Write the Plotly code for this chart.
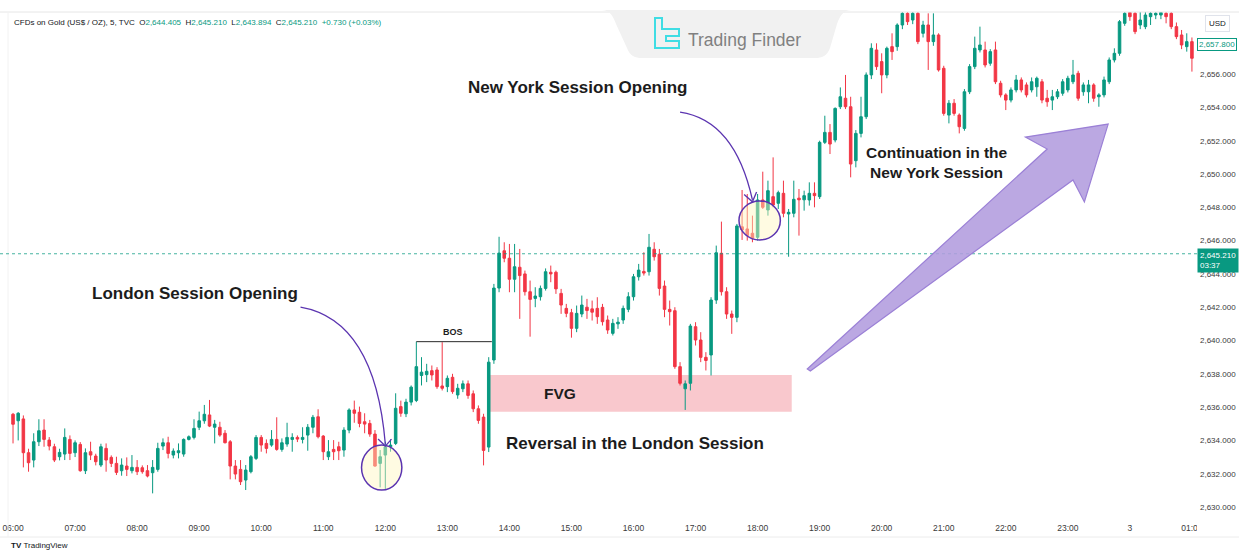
import pandas as pd
import plotly.graph_objects as go

# ---------------- data (5-minute candles, XAUUSD) ----------------
opens = [
    2635.57, 2635.18, 2635.29, 2633.26, 2632.82, 2633.92, 2634.62, 2634.02, 2633.62, 2633.02,
    2633.18, 2634.06, 2633.26, 2633.76, 2632.18, 2633.32, 2633.06, 2632.52, 2633.52, 2632.98,
    2632.62, 2632.18, 2632.46, 2632.18, 2632.38, 2632.36, 2632.18, 2632.06, 2632.26, 2633.66,
    2633.86, 2633.12, 2633.26, 2633.18, 2634.06, 2634.18, 2634.79, 2635.18, 2635.53, 2634.79,
    2634.79, 2634.43, 2633.92, 2632.46, 2632.26, 2631.62, 2632.12, 2632.92, 2634.18, 2633.82,
    2633.72, 2634.06, 2633.46, 2633.78, 2634.06, 2634.18, 2634.06, 2634.32, 2634.79, 2635.42,
    2634.26, 2633.02, 2633.46, 2633.62, 2633.42, 2634.62, 2635.83, 2635.69, 2635.12, 2635.02,
    2634.38, 2632.62, 2633.12, 2633.62, 2633.82, 2636.03, 2635.60, 2636.30, 2636.40, 2637.90,
    2637.95, 2638.19, 2638.23, 2637.27, 2637.23, 2637.79, 2636.73, 2637.10, 2637.40, 2636.80,
    2635.90, 2635.40, 2633.60, 2638.83, 2643.15, 2645.39, 2644.94, 2643.68, 2644.40, 2644.00,
    2642.93, 2642.53, 2642.63, 2643.13, 2644.10, 2644.10, 2642.83, 2641.93, 2641.67, 2640.73,
    2641.59, 2642.00, 2641.90, 2641.93, 2641.99, 2641.23, 2640.43, 2641.00, 2641.23, 2641.87,
    2642.63, 2643.83, 2644.15, 2644.13, 2645.48, 2645.18, 2643.27, 2641.87, 2641.79, 2638.43,
    2637.10, 2637.43, 2640.83, 2640.03, 2638.99, 2639.13, 2642.43, 2645.24, 2642.93, 2641.59,
    2641.39, 2646.83, 2646.70, 2646.44, 2646.20, 2648.44, 2647.84, 2648.64, 2648.24, 2648.84,
    2647.60, 2647.64, 2648.55, 2648.45, 2648.44, 2648.84, 2648.64, 2651.90, 2652.50, 2652.04,
    2654.04, 2654.55, 2654.04, 2650.80, 2652.44, 2653.44, 2655.95, 2657.45, 2656.75, 2655.95,
    2657.65, 2657.65, 2658.95, 2659.65, 2659.25, 2659.65, 2658.45, 2658.95, 2657.95, 2658.35,
    2656.35, 2653.54, 2654.25, 2653.54, 2652.74, 2654.94, 2656.45, 2657.45, 2657.45, 2656.65,
    2657.45, 2655.45, 2654.75, 2654.44, 2655.05, 2655.65, 2655.35, 2655.05, 2655.24, 2655.54,
    2654.55, 2654.44, 2654.64, 2654.85, 2655.05, 2655.54, 2656.05, 2654.94, 2654.94, 2655.35,
    2654.64, 2654.75, 2655.54, 2656.85, 2657.25, 2659.05, 2659.70, 2659.65, 2658.95, 2658.85,
    2659.45, 2659.55, 2659.55, 2659.65, 2659.65, 2658.85, 2658.35, 2657.65, 2657.95,
]
highs = [
    2635.65, 2635.70, 2635.50, 2633.50, 2634.43, 2635.27, 2635.27, 2634.20, 2633.80, 2633.50,
    2634.72, 2634.30, 2634.00, 2633.90, 2633.52, 2633.92, 2633.20, 2633.80, 2633.82, 2633.10,
    2633.02, 2632.92, 2632.98, 2633.12, 2632.82, 2632.50, 2632.52, 2632.82, 2633.86, 2634.12,
    2634.22, 2633.52, 2633.82, 2634.12, 2634.30, 2635.27, 2635.73, 2636.13, 2636.43, 2635.23,
    2635.12, 2634.62, 2634.02, 2632.82, 2632.82, 2632.52, 2633.12, 2634.32, 2634.32, 2634.06,
    2634.62, 2635.39, 2634.12, 2635.06, 2634.43, 2634.30, 2634.79, 2634.98, 2635.53, 2635.87,
    2634.32, 2634.02, 2634.02, 2633.92, 2634.79, 2635.93, 2636.39, 2636.03, 2635.63, 2635.23,
    2634.62, 2633.42, 2633.92, 2634.06, 2636.83, 2636.39, 2636.50, 2637.30, 2639.93, 2639.00,
    2638.60, 2638.50, 2638.40, 2639.90, 2637.90, 2638.00, 2637.40, 2637.60, 2637.60, 2637.00,
    2636.10, 2635.60, 2639.00, 2643.40, 2646.23, 2645.90, 2645.80, 2645.80, 2645.50, 2644.20,
    2643.60, 2643.20, 2643.30, 2644.33, 2644.50, 2644.20, 2643.10, 2642.20, 2641.90, 2642.10,
    2642.70, 2642.50, 2642.40, 2642.60, 2642.20, 2641.50, 2641.30, 2641.40, 2642.10, 2642.90,
    2644.00, 2644.60, 2645.30, 2646.40, 2645.90, 2645.50, 2643.60, 2642.40, 2642.00, 2638.70,
    2637.60, 2641.00, 2641.10, 2640.50, 2639.30, 2642.60, 2645.70, 2647.14, 2643.20, 2641.80,
    2647.00, 2649.04, 2648.80, 2647.50, 2648.80, 2650.14, 2649.60, 2651.00, 2649.00, 2649.60,
    2647.90, 2649.60, 2649.10, 2649.00, 2649.50, 2649.50, 2652.00, 2653.50, 2653.00, 2654.00,
    2655.20, 2655.95, 2654.64, 2652.64, 2654.64, 2656.10, 2657.85, 2657.85, 2657.25, 2657.65,
    2658.45, 2659.05, 2660.20, 2660.20, 2660.20, 2660.20, 2659.20, 2659.65, 2659.65, 2658.45,
    2656.50, 2654.44, 2654.50, 2653.64, 2655.10, 2656.60, 2658.25, 2658.85, 2657.95, 2657.50,
    2657.95, 2655.60, 2654.85, 2655.20, 2655.95, 2655.80, 2655.50, 2655.80, 2655.85, 2655.70,
    2655.05, 2655.05, 2655.10, 2655.70, 2655.90, 2656.85, 2656.20, 2655.50, 2655.65, 2655.45,
    2654.85, 2655.85, 2657.00, 2657.55, 2659.25, 2660.20, 2660.20, 2660.00, 2659.80, 2660.20,
    2660.20, 2660.20, 2660.20, 2660.20, 2660.00, 2659.10, 2658.65, 2658.45, 2658.20,
]
lows = [
    2633.82, 2634.00, 2632.38, 2632.12, 2632.38, 2633.66, 2633.62, 2633.40, 2632.70, 2632.80,
    2632.82, 2632.82, 2633.00, 2632.12, 2631.98, 2632.82, 2632.50, 2632.40, 2632.12, 2632.40,
    2631.92, 2631.88, 2631.86, 2632.02, 2631.92, 2632.00, 2631.78, 2630.82, 2632.12, 2633.42,
    2632.92, 2632.92, 2632.92, 2633.02, 2634.00, 2634.06, 2634.62, 2635.00, 2634.80, 2633.82,
    2634.22, 2633.82, 2631.66, 2631.66, 2631.32, 2631.02, 2632.02, 2632.82, 2633.32, 2633.22,
    2633.62, 2633.38, 2633.32, 2633.62, 2633.32, 2633.90, 2633.82, 2633.38, 2634.43, 2634.12,
    2632.82, 2632.82, 2632.82, 2632.82, 2633.02, 2634.43, 2635.06, 2634.79, 2634.43, 2634.22,
    2632.42, 2631.18, 2631.02, 2633.32, 2633.72, 2635.42, 2635.40, 2636.10, 2636.30, 2637.30,
    2637.50, 2637.60, 2637.10, 2637.00, 2636.90, 2636.80, 2636.50, 2636.90, 2636.50, 2635.70,
    2635.00, 2632.50, 2633.30, 2638.60, 2642.90, 2644.70, 2642.90, 2642.90, 2641.30, 2642.70,
    2640.23, 2642.00, 2642.40, 2643.00, 2643.50, 2642.80, 2641.60, 2641.40, 2640.17, 2640.50,
    2641.40, 2641.30, 2641.20, 2641.00, 2640.90, 2640.40, 2640.30, 2640.70, 2641.00, 2641.70,
    2642.40, 2643.60, 2643.90, 2643.90, 2644.80, 2642.70, 2641.40, 2640.90, 2638.30, 2637.30,
    2635.83, 2637.00, 2639.70, 2638.70, 2638.20, 2637.90, 2642.20, 2642.70, 2641.30, 2640.40,
    2641.10, 2646.04, 2646.00, 2645.90, 2646.00, 2647.90, 2647.50, 2648.00, 2647.90, 2647.40,
    2645.03, 2647.40, 2646.30, 2647.80, 2648.10, 2648.00, 2648.50, 2651.80, 2651.20, 2651.90,
    2653.90, 2653.90, 2649.80, 2650.40, 2652.20, 2653.30, 2655.70, 2656.25, 2654.85, 2655.75,
    2656.85, 2657.40, 2658.70, 2658.95, 2659.00, 2657.80, 2658.20, 2656.25, 2657.70, 2656.15,
    2653.50, 2653.04, 2653.50, 2652.44, 2652.60, 2654.80, 2656.30, 2657.30, 2656.40, 2656.50,
    2655.40, 2654.60, 2653.84, 2654.30, 2654.90, 2654.90, 2654.60, 2654.90, 2654.64, 2654.25,
    2654.04, 2653.84, 2654.50, 2654.70, 2654.90, 2655.40, 2654.40, 2654.70, 2654.25, 2654.34,
    2654.04, 2654.60, 2655.40, 2656.70, 2657.10, 2658.90, 2659.20, 2658.40, 2658.70, 2658.70,
    2658.95, 2659.30, 2659.30, 2659.05, 2658.70, 2658.10, 2657.50, 2657.35, 2656.15,
]
closes = [
    2634.97, 2635.63, 2633.26, 2632.66, 2633.92, 2634.58, 2634.06, 2633.66, 2632.82, 2633.28,
    2634.18, 2633.22, 2633.86, 2632.18, 2633.26, 2633.12, 2632.72, 2633.62, 2632.82, 2632.62,
    2632.08, 2632.52, 2632.26, 2632.38, 2632.12, 2632.12, 2631.86, 2632.38, 2633.52, 2633.86,
    2633.22, 2633.36, 2633.38, 2634.06, 2634.22, 2634.72, 2635.18, 2635.57, 2634.86, 2634.98,
    2634.32, 2633.86, 2632.46, 2631.98, 2631.52, 2632.22, 2633.02, 2634.18, 2633.72, 2633.52,
    2634.06, 2633.46, 2633.86, 2634.18, 2634.18, 2634.08, 2634.18, 2634.79, 2635.39, 2634.22,
    2633.32, 2633.32, 2633.32, 2633.38, 2634.62, 2635.83, 2635.63, 2635.02, 2634.98, 2634.38,
    2632.46, 2633.02, 2633.62, 2633.72, 2635.93, 2635.63, 2636.30, 2637.20, 2638.43, 2638.10,
    2638.15, 2637.93, 2637.23, 2637.13, 2637.73, 2636.93, 2637.13, 2637.40, 2636.70, 2635.90,
    2635.20, 2633.40, 2638.70, 2643.15, 2645.25, 2644.94, 2643.68, 2644.43, 2643.90, 2642.93,
    2642.47, 2642.67, 2643.13, 2644.13, 2644.00, 2643.10, 2642.13, 2641.63, 2640.73, 2641.63,
    2642.13, 2641.80, 2641.70, 2641.43, 2641.13, 2640.63, 2641.03, 2641.10, 2641.93, 2642.63,
    2643.83, 2644.23, 2644.05, 2645.60, 2645.03, 2643.13, 2641.87, 2641.73, 2638.43, 2637.43,
    2637.40, 2640.87, 2640.03, 2638.99, 2638.80, 2642.43, 2645.27, 2642.93, 2641.59, 2641.39,
    2646.88, 2646.64, 2646.30, 2646.14, 2648.44, 2648.00, 2649.00, 2648.14, 2648.88, 2647.64,
    2647.70, 2648.48, 2648.45, 2648.70, 2648.84, 2648.70, 2651.90, 2652.50, 2651.80, 2653.94,
    2654.64, 2654.04, 2650.60, 2652.44, 2653.44, 2655.95, 2657.55, 2656.45, 2655.95, 2657.55,
    2657.35, 2658.95, 2659.65, 2659.15, 2659.65, 2657.95, 2658.95, 2657.95, 2658.35, 2656.25,
    2653.64, 2654.25, 2653.64, 2652.84, 2654.94, 2656.45, 2657.55, 2657.75, 2656.55, 2657.35,
    2655.54, 2654.75, 2654.44, 2655.05, 2655.65, 2655.05, 2654.75, 2655.54, 2655.75, 2654.44,
    2654.34, 2654.64, 2654.94, 2655.54, 2655.75, 2655.95, 2654.55, 2655.35, 2655.35, 2654.55,
    2654.75, 2655.65, 2656.85, 2657.25, 2659.15, 2659.65, 2659.45, 2658.55, 2659.25, 2659.55,
    2659.65, 2659.65, 2659.70, 2659.45, 2658.85, 2658.25, 2657.75, 2657.95, 2656.95,
]
assert len(opens) == len(highs) == len(lows) == len(closes)

times = pd.date_range("2024-12-02 06:00", periods=len(opens), freq="5min")

hour_ticks = pd.date_range("2024-12-02 06:00", "2024-12-03 01:00", freq="1h")
hour_labels = ["06:00", "07:00", "08:00", "09:00", "10:00", "11:00", "12:00", "13:00",
               "14:00", "15:00", "16:00", "17:00", "18:00", "19:00", "20:00", "21:00",
               "22:00", "23:00", "3", "01:00"]
price_ticks = list(range(2630, 2660, 2))

symbol = "CFDs on Gold (US$ / OZ), 5, TVC"
ohlc_letters = ["O", "H", "L", "C"]
ohlc_values = ["2,644.405", "2,645.210", "2,643.894", "2,645.210"]
change_text = "+0.730 (+0.03%)"
last_price = 2645.21
countdown = "03:37"
marker_price = 2657.80

# ---------------- styling ----------------
UP = "#089981"
DOWN = "#F23645"
INK = "#131722"
PURPLE = "#5b34b0"
FONT = "Liberation Sans"

# plot-area pixel geometry (for decorations outside the data)
ML, MR, MT, MB = 0, 42, 12, 32
W, H = 1239, 550
PW, PH = W - ML - MR, H - MT - MB


def PX(x):
    return (x - ML) / PW


def PY(y):
    return 1 - (y - MT) / PH


def T(hm, day=2):
    return f"2024-12-0{day} {hm}"


def ms(hm, day=2):
    return int(pd.Timestamp(T(hm, day)).value // 10**6)


fig = go.Figure(
    go.Candlestick(
        x=times, open=opens, high=highs, low=lows, close=closes,
        increasing=dict(line=dict(color=UP, width=1), fillcolor=UP),
        decreasing=dict(line=dict(color=DOWN, width=1), fillcolor=DOWN),
        whiskerwidth=0, hoverinfo="skip", showlegend=False,
    )
)

shapes = []
# frame lines
shapes.append(dict(type="line", xref="paper", yref="paper", x0=0, x1=W / PW, y0=1, y1=1,
                   line=dict(color="#e6e6e6", width=1)))
shapes.append(dict(type="line", xref="paper", yref="paper", x0=0, x1=W / PW,
                   y0=PY(537), y1=PY(537), line=dict(color="#ececec", width=1)))
shapes.append(dict(type="line", xref="paper", yref="paper", x0=PX(8), x1=PX(8),
                   y0=PY(537), y1=1, line=dict(color="#f2f2f2", width=1)))
# hide time label overflow under price scale
shapes.append(dict(type="rect", xref="paper", yref="paper", x0=1.0, x1=W / PW,
                   y0=PY(536), y1=0, fillcolor="white", line=dict(width=0), layer="above"))

# FVG zone
shapes.append(dict(type="rect", xref="x", yref="y", x0=T("13:41"), x1=T("18:33"),
                   y0=2635.72, y1=2637.93, fillcolor="#f9c8cd", line=dict(width=0),
                   layer="below"))
# last price dotted line
shapes.append(dict(type="line", xref="paper", yref="y", x0=0, x1=1, y0=last_price,
                   y1=last_price, line=dict(color="rgba(8,153,129,0.75)", width=1, dash="dot")))
# BOS line
shapes.append(dict(type="line", xref="x", yref="y", x0=T("12:30"), x1=T("13:43"),
                   y0=2639.93, y1=2639.93, line=dict(color="#2a2a2a", width=1)))

# session circles
shapes.append(dict(type="circle", xref="x", yref="y", x0=T("11:37"), x1=T("12:16"),
                   y0=2631.02, y1=2633.72, fillcolor="rgba(255,246,190,0.45)",
                   line=dict(color=PURPLE, width=1.5)))
shapes.append(dict(type="circle", xref="x", yref="y", x0=T("17:42"), x1=T("18:22"),
                   y0=2646.04, y1=2648.38, fillcolor="rgba(255,246,190,0.45)",
                   line=dict(color=PURPLE, width=1.5)))

# curved pointer lines
shapes.append(dict(type="path", xref="x", yref="y",
                   path=f"M {ms('10:38')},2642.01 Q {ms('11:50')},2641.23 {ms('12:00')},2633.78",
                   line=dict(color=PURPLE, width=1.3)))
shapes.append(dict(type="path", xref="x", yref="y",
                   path=f"M {ms('11:53')},2634.08 L {ms('12:00')},2633.66 L {ms('12:06')},2634.08",
                   line=dict(color=PURPLE, width=1.3)))
shapes.append(dict(type="path", xref="x", yref="y",
                   path=f"M {ms('16:45')},2653.72 Q {ms('17:38')},2653.24 {ms('17:55')},2648.44",
                   line=dict(color=PURPLE, width=1.3)))
shapes.append(dict(type="path", xref="x", yref="y",
                   path=f"M {ms('17:47')},2648.77 L {ms('17:55')},2648.33 L {ms('17:59')},2648.92",
                   line=dict(color=PURPLE, width=1.3)))

# big continuation arrow
arrow_path = (f"M {ms('18:48')},2638.29 L {ms('22:40')},2651.50 L {ms('22:19')},2652.22 "
              f"L {ms('23:39')},2653.00 L {ms('23:16')},2648.32 L {ms('23:05')},2649.64 "
              f"L {ms('18:51')},2638.17 Z")
shapes.append(dict(type="path", xref="x", yref="y", path=arrow_path,
                   fillcolor="rgba(178,156,222,0.88)", line=dict(color="#9b80d6", width=1.2)))

# Trading Finder logo badge
badge = ("M {a},{b} L {c},{b} C {d},{b} {e},{f} {g},{h} L {i},{j} C {k},{l} {m},{n} {o},{n} "
         "L {p},{n} C {q},{n} {r},{l} {s},{j} L {t},{h} C {u},{f} {v},{b} {a},{b} Z").format(
    a=PX(601), b=PY(10), c=PX(852), d=PX(843), e=PX(840), f=PY(16), g=PX(837), h=PY(24),
    i=PX(830), j=PY(48), k=PX(827), l=PY(56), m=PX(822), n=PY(58), o=PX(815),
    p=PX(642), q=PX(635), r=PX(630), s=PX(627), t=PX(616), u=PX(613), v=PX(610))
shapes.append(dict(type="path", xref="paper", yref="paper", path=badge,
                   fillcolor="#f1f1f1", line=dict(width=0), layer="above"))
icon_pts = [(655, 18), (662, 18), (662, 29), (679, 29), (679, 36), (666, 36), (666, 41),
            (679, 41), (679, 48), (655, 48)]
icon = "M " + " L ".join(f"{PX(x)},{PY(y)}" for x, y in icon_pts) + " Z"
shapes.append(dict(type="path", xref="paper", yref="paper", path=icon,
                   line=dict(color="#3fdde4", width=2), layer="above"))

annotations = []


def label(text, x, y, size, bold=True, **kw):
    t = f"<b>{text}</b>" if bold else text
    d = dict(text=t, x=x, y=y, xref="x", yref="y", showarrow=False,
             font=dict(family=FONT, size=size, color="#1c1c1c"),
             xanchor="center", yanchor="middle")
    d.update(kw)
    annotations.append(d)


label("New York Session Opening", T("15:06"), 2655.17, 17)
label("London Session Opening", T("08:56"), 2642.85, 17)
label("BOS", T("13:05"), 2640.50, 9)
label("FVG", T("14:49"), 2636.80, 15.5)
label("Reversal in the London Session", T("16:01"), 2633.84, 17)
label("Continuation in the<br>New York Session", T("20:53"), 2650.72, 15.5)

# header
NB = "\u00a0"
hdr = symbol + NB * 2 + (NB * 2).join(
    f"{l}<span style='color:{UP}'>{v}</span>" for l, v in zip(ohlc_letters, ohlc_values))
hdr += NB * 2 + f"<span style='color:{UP}'>{change_text}</span>"
annotations.append(dict(text=hdr, xref="paper", yref="paper", x=PX(12), y=PY(23),
                        xanchor="left", yanchor="middle", showarrow=False,
                        font=dict(family=FONT, size=8, color=INK)))
# logo text
annotations.append(dict(text="Trading Finder", xref="paper", yref="paper", x=PX(744),
                        y=PY(40), xanchor="center", yanchor="middle", showarrow=False,
                        font=dict(family=FONT, size=17.5, color="#808080")))
# TradingView footer
annotations.append(dict(text=f"<b>TV</b>{NB}TradingView", xref="paper", yref="paper",
                        x=PX(9), y=PY(545), xanchor="left", yanchor="middle",
                        showarrow=False, font=dict(family=FONT, size=8, color=INK)))
# price scale labels
annotations.append(dict(text="USD", xref="paper", yref="paper", x=PX(1217), y=PY(24),
                        xanchor="center", yanchor="middle", showarrow=False,
                        bgcolor="white", bordercolor="#e0e3eb", borderwidth=1, borderpad=3,
                        font=dict(family=FONT, size=8, color=INK)))
annotations.append(dict(text=f"{marker_price:,.3f}", xref="paper", yref="y", x=1.0,
                        y=marker_price, xanchor="left", yanchor="middle", showarrow=False,
                        bgcolor="white", bordercolor=UP, borderwidth=1, borderpad=1,
                        font=dict(family=FONT, size=8, color=UP)))
annotations.append(dict(text=f"{last_price:,.3f}<br>{countdown}", xref="paper", yref="y",
                        x=1.0, y=last_price, xanchor="left", yanchor="top", yshift=6,
                        align="left", showarrow=False, bgcolor=UP, borderpad=2,
                        font=dict(family=FONT, size=8, color="white")))

fig.update_layout(
    width=W, height=H,
    margin=dict(l=ML, r=MR, t=MT, b=MB),
    paper_bgcolor="white", plot_bgcolor="white",
    font=dict(family=FONT, color=INK),
    showlegend=False,
    hovermode=False,
    xaxis=dict(
        type="date",
        range=[T("05:47:24"), T("01:04:54", 3)],
        rangeslider=dict(visible=False),
        tickmode="array", tickvals=hour_ticks, ticktext=hour_labels,
        showgrid=False, zeroline=False, showline=False, ticks="", ticklen=0,
        tickfont=dict(family=FONT, size=8.5, color="#3a3a3a"),
        ticklabelstandoff=3,
        ticklabeloverflow="allow", fixedrange=True,
    ),
    yaxis=dict(
        side="right",
        range=[2629.34, 2659.73],
        tickmode="array", tickvals=price_ticks, tickformat=",.3f",
        showgrid=False, zeroline=False, showline=False, ticks="", ticklen=0,
        tickfont=dict(family=FONT, size=8, color="#3a3a3a"),
        ticklabelstandoff=2, fixedrange=True,
    ),
    shapes=shapes,
    annotations=annotations,
)

fig.write_html(
    "out.html",
    config={"displayModeBar": False, "staticPlot": True},
    post_script="document.body.style.margin='0px';document.body.style.overflow='hidden';",
)
